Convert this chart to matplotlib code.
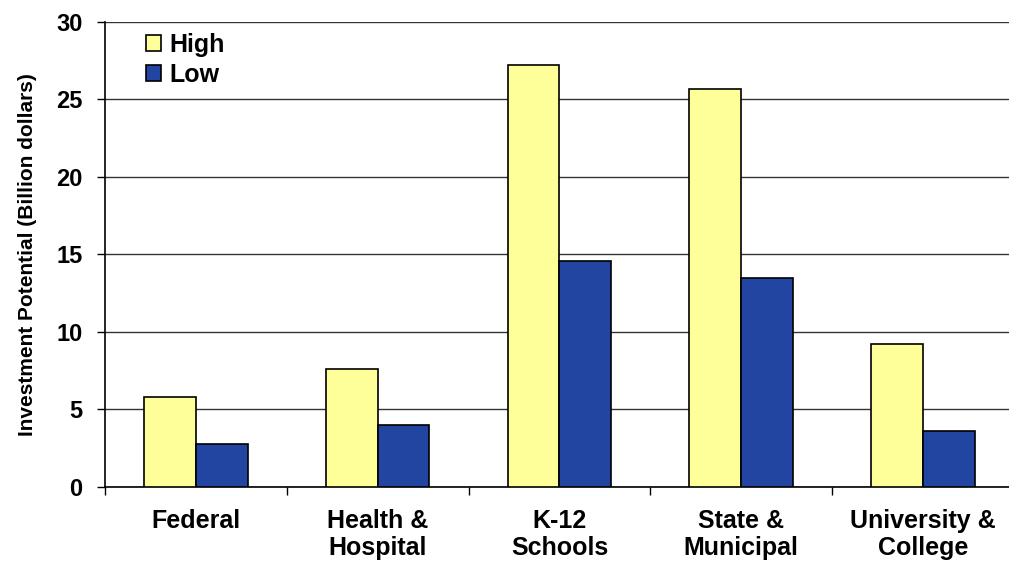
import numpy as np
import matplotlib
matplotlib.use('Agg')
import matplotlib.pyplot as plt

plt.rcParams['font.family'] = ['Liberation Sans', 'DejaVu Sans']
plt.rcParams['font.weight'] = 'bold'
plt.rcParams['axes.labelweight'] = 'bold'

# data
categories = ['Federal', 'Health &\nHospital', 'K-12\nSchools', 'State &\nMunicipal', 'University &\nCollege']
high = [5.8, 7.6, 27.2, 25.7, 9.2]
low = [2.8, 4.0, 14.6, 13.5, 3.6]

yellow = '#FFFF99'
blue = '#2145A0'

fig = plt.figure(figsize=(10.09, 5.61), dpi=100)
ax = fig.add_axes([0.104, 0.132, 0.901, 0.829])

x = np.arange(len(categories))
w = 0.285
ax.bar(x - w/2, high, w, color=yellow, edgecolor='black', linewidth=1.2, label='High', zorder=3)
ax.bar(x + w/2, low, w, color=blue, edgecolor='black', linewidth=1.2, label='Low', zorder=3)

ax.set_ylim(0, 30)
ax.set_xlim(-0.5, len(categories) - 0.5)
ax.set_yticks(range(0, 31, 5))
ax.yaxis.grid(True, color='#333333', linewidth=1.0, zorder=0)
ax.tick_params(axis='y', labelsize=17, length=6, width=1, direction='out', pad=10)

# category ticks between groups
ax.set_xticks(np.arange(-0.5, len(categories), 1))
ax.set_xticklabels([])
ax.set_xticks(x, minor=True)
ax.set_xticklabels(categories, minor=True, fontsize=18, linespacing=1.15)
ax.tick_params(axis='x', which='major', length=6, width=1, direction='out')
ax.tick_params(axis='x', which='minor', length=0, pad=16)

for s in ['top', 'right']:
    ax.spines[s].set_visible(False)
ax.spines['left'].set_linewidth(1.2)
ax.spines['bottom'].set_linewidth(1.2)

ax.set_ylabel('Investment Potential (Billion dollars)', fontsize=15, labelpad=14)

ax.legend(loc='upper left', frameon=False, fontsize=18, handlelength=0.6, handleheight=0.6,
          handletextpad=0.35, labelspacing=0.25, bbox_to_anchor=(0.02, 1.025))

fig.savefig('out.png', dpi=100)
